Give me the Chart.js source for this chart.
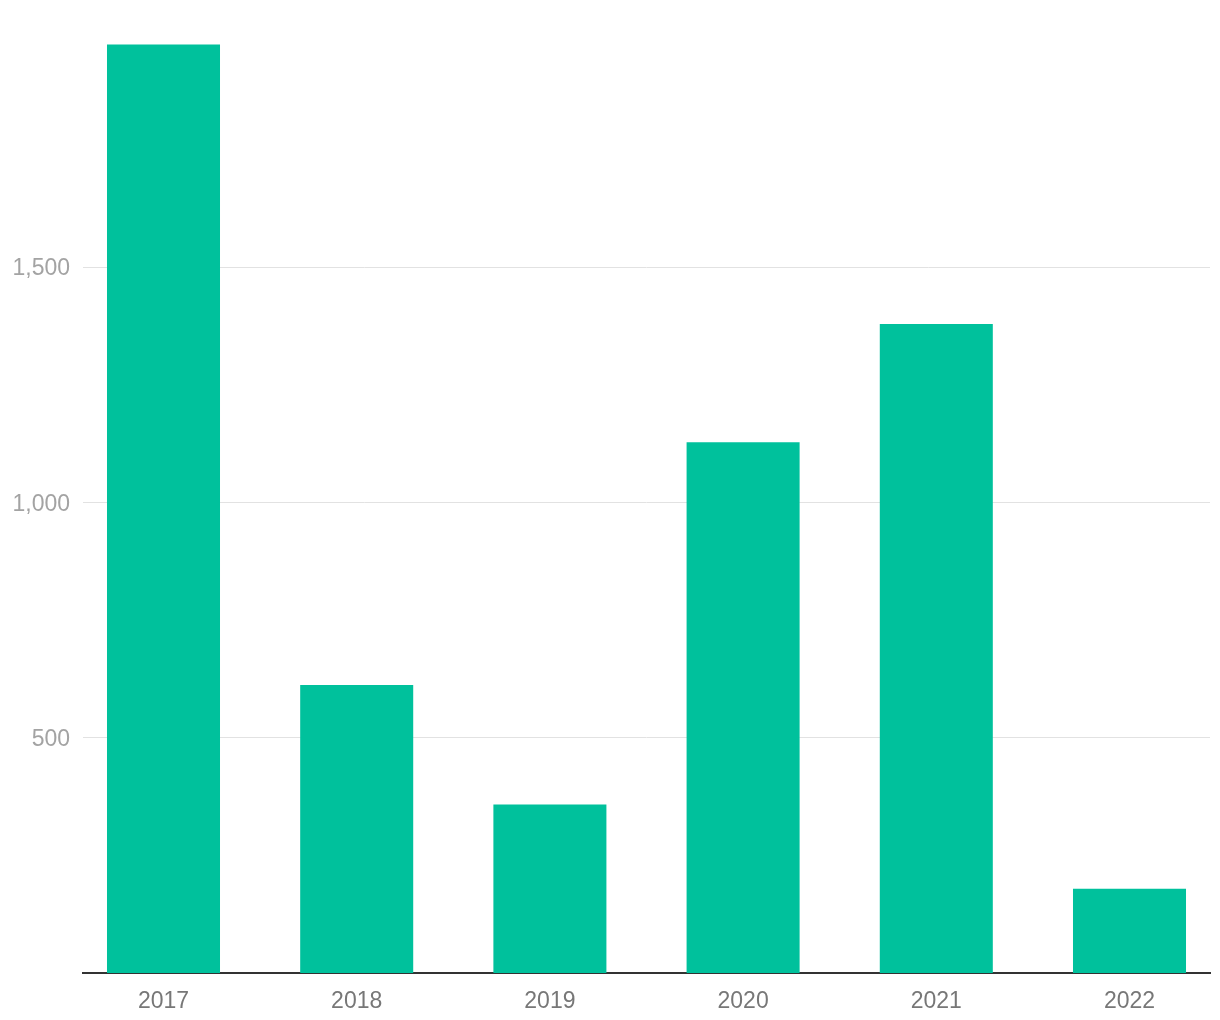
<!DOCTYPE html>
<html>
<head>
<meta charset="utf-8">
<script src="https://cdn.jsdelivr.net/npm/chart.js@4/dist/chart.umd.min.js"></script>
<style>
  html, body { margin: 0; padding: 0; background: #fff; }
  #wrap { width: 1220px; height: 1020px; }
</style>
</head>
<body>
<div id="wrap"><canvas id="chart"></canvas></div>
<script>
var years = ['2017', '2018', '2019', '2020', '2021', '2022'];
var values = [1973, 612, 358, 1128, 1379, 179];
var yTicks = [500, 1000, 1500];

var ctx = document.getElementById('chart').getContext('2d');

var chart = new Chart(ctx, {
    type : 'bar',
    data : {
        datasets : [{
            data : years.map(function(y, i) { return { x : i, y : values[i] }; }),
            backgroundColor : '#00c19c',
            borderWidth : 0,
            barPercentage : 0.585,
            categoryPercentage : 1
        }]
    },
    options : {
        responsive : true,
        maintainAspectRatio : false,
        animation : false,
        layout : { padding : { top : 43.5, right : 10, left : 0, bottom : 0 } },
        plugins : {
            legend : { display : false },
            tooltip : { enabled : false }
        },
        scales : {
            x : {
                type : 'linear',
                offset : false,
                min : -5 / 12,
                max : 65 / 12,
                afterBuildTicks : function(scale) {
                    scale.ticks = years.map(function(y, i) { return { value : i }; });
                },
                afterFit : function(scale) { scale.height = 47; },
                grid : { display : false, drawTicks : false },
                border : { display : true, color : '#333333', width : 2 },
                ticks : {
                    autoSkip : false,
                    maxRotation : 0,
                    padding : 15,
                    color : '#777777',
                    font : { family : 'Liberation Sans', size : 23 },
                    callback : function(value) { return years[value]; }
                }
            },
            y : {
                min : 0,
                max : 1975,
                afterBuildTicks : function(scale) {
                    scale.ticks = yTicks.map(function(v) { return { value : v }; });
                },
                afterFit : function(scale) { scale.width = 83; },
                grid : { color : '#e2e2e2', lineWidth : 1, drawTicks : false },
                border : { display : false },
                ticks : {
                    padding : 13,
                    labelOffset : 2,
                    color : '#a3a3a3',
                    font : { family : 'Liberation Sans', size : 23 },
                    callback : function(value) { return value.toLocaleString('en-US'); }
                }
            }
        }
    }
});
</script>
</body>
</html>
